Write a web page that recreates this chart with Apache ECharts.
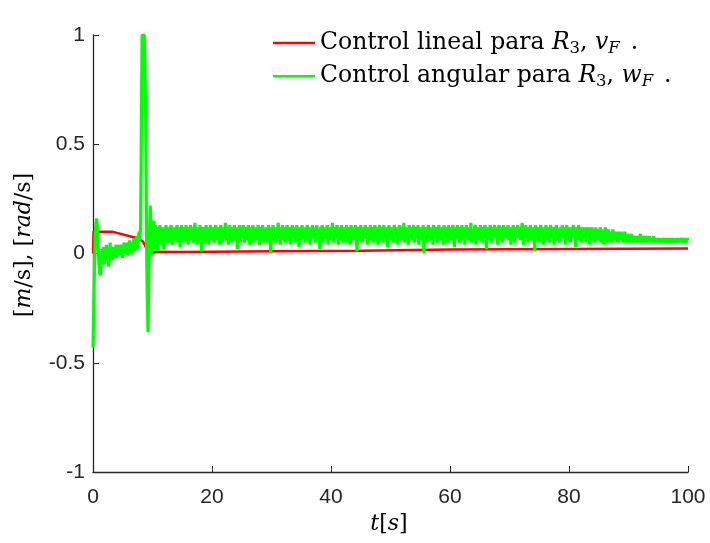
<!DOCTYPE html>
<html>
<head>
<meta charset="utf-8">
<script src="https://cdn.jsdelivr.net/npm/echarts@6.0.0/dist/echarts.min.js"></script>
<style>
  html, body { margin: 0; padding: 0; background: #ffffff; }
  #chart { width: 710px; height: 543px; }
</style>
</head>
<body>
<div id="chart"></div>
<script>
// Axis ticks
const xTicks = [0, 20, 40, 60, 80, 100];
const yTicks = [-1, -0.5, 0, 0.5, 1];

// Linear control signal v_F (time in s, value)
const linearT = [0, 0.1, 3.2, 7.5, 8.4, 9.5, 10.5, 15, 30, 45, 60, 80, 100];
const linearV = [0, 0.1, 0.1, 0.07, 0.055, -0.005, 0.008, 0.007, 0.010, 0.013, 0.018, 0.021, 0.023];

// Angular control signal w_F, sampled every 0.125 s from t = 0 to t = 100
const angularStep = 0.125;
const angularV = [
  // 0 - 12.5 s: start-up transient
  -0.43, -0.25, -0.05, 0.08, 0.14, 0.16, 0.10, 0.02, -0.05, -0.09,
  -0.10, -0.04, 0.02, -0.02, 0.03, -0.05, 0.01, -0.03, 0.04, -0.01,
  0.02, -0.06, -0.02, 0.05, -0.01, 0.03, -0.03, 0.02, -0.02, 0.03,
  0.00, 0.04, -0.02, 0.02, 0.04, -0.01, 0.03, 0.00, 0.04, 0.01,
  -0.02, 0.03, 0.05, 0.00, 0.04, 0.01, 0.05, -0.01, 0.03, 0.06,
  0.01, 0.04, 0.00, 0.05, 0.02, 0.07, 0.01, 0.06, 0.03, 0.08,
  0.02, 0.07, 0.10, 0.06, 0.12, 0.55, 1.00, 1.00, 1.00, 1.00,
  1.00, 0.60, 0.05, -0.20, -0.36, -0.10, 0.08, 0.22, 0.10, -0.01,
  0.12, 0.03, 0.15, 0.02, 0.13, 0.05, 0.12, 0.01, 0.11, 0.06,
  0.13, 0.04, 0.12, 0.07, 0.10, 0.02, 0.12, 0.06, 0.13, 0.05,
  0.11,
  // 12.6 - 90 s: steady tracking
  0.09, 0.12, 0.05, 0.11, 0.13, 0.07, 0.04, 0.10, 0.12, 0.06,
  0.11, 0.08, 0.13, 0.05, 0.09, 0.12, 0.03, 0.10, 0.13, 0.07,
  0.05, 0.12, 0.10, 0.06, 0.13, 0.08, 0.11, 0.04, 0.12, 0.09,
  0.13, 0.06, 0.10, 0.12, 0.05, 0.11, 0.14, 0.07, 0.09, 0.04,
  0.12, 0.10, 0.06, 0.13, 0.08, 0.01, 0.11, 0.12, 0.07, 0.10,
  0.05, 0.13, 0.09, 0.11, 0.04, 0.12, 0.08, 0.13, 0.06, 0.10,
  0.12, 0.07, 0.05, 0.11, 0.13, 0.09, 0.06, 0.12, 0.10, 0.04,
  0.11, 0.13, 0.08, 0.05, 0.12, 0.10, 0.07, 0.14, 0.06, 0.09,
  0.12, 0.04, 0.10, 0.13, 0.07, 0.11, 0.05, 0.12, 0.09, 0.13,
  0.06, 0.10, 0.12, 0.02, 0.11, 0.08, 0.13, 0.05, 0.10, 0.12,
  0.07, 0.13, 0.09, 0.05, 0.11, 0.12, 0.06, 0.10, 0.13, 0.08,
  0.04, 0.12, 0.10, 0.07, 0.13, 0.05, 0.11, 0.09, 0.12, 0.06,
  0.10, 0.13, 0.08, 0.04, 0.12, 0.11, 0.06, 0.13, 0.09, 0.05,
  0.11, 0.07, 0.12, 0.10, 0.05, 0.13, 0.08, 0.11, 0.00, 0.12,
  0.09, 0.13, 0.06, 0.10, 0.12, 0.05, 0.11, 0.08, 0.14, 0.07,
  0.10, 0.04, 0.12, 0.09, 0.13, 0.06, 0.11, 0.12, 0.05, 0.10,
  0.13, 0.08, 0.06, 0.12, 0.10, 0.04, 0.11, 0.13, 0.07, 0.09,
  0.12, 0.05, 0.10, 0.13, 0.08, 0.11, 0.03, 0.12, 0.09, 0.06,
  0.13, 0.10, 0.07, 0.12, 0.05, 0.11, 0.09, 0.13, 0.06, 0.10,
  0.12, 0.04, 0.11, 0.08, 0.13, 0.07, 0.10, 0.12, 0.05, 0.09,
  0.13, 0.06, 0.11, 0.10, 0.02, 0.12, 0.08, 0.13, 0.05, 0.11,
  0.09, 0.12, 0.07, 0.10, 0.13, 0.04, 0.11, 0.09, 0.12, 0.06,
  0.10, 0.14, 0.08, 0.05, 0.12, 0.11, 0.07, 0.13, 0.09, 0.04,
  0.12, 0.10, 0.06, 0.13, 0.08, 0.11, 0.05, 0.12, 0.10, 0.07,
  0.13, 0.05, 0.09, 0.12, 0.11, 0.04, 0.13, 0.08, 0.10, 0.06,
  0.12, 0.09, 0.13, 0.07, 0.01, 0.11, 0.12, 0.06, 0.10, 0.13,
  0.08, 0.05, 0.12, 0.10, 0.07, 0.13, 0.09, 0.11, 0.04, 0.12,
  0.10, 0.06, 0.13, 0.08, 0.11, 0.12, 0.05, 0.10, 0.13, 0.07,
  0.09, 0.12, 0.04, 0.11, 0.13, 0.08, 0.06, 0.12, 0.10, 0.05,
  0.13, 0.09, 0.11, 0.07, 0.12, 0.03, 0.10, 0.13, 0.08, 0.11,
  0.06, 0.12, 0.10, 0.05, 0.13, 0.09, 0.11, 0.07, 0.12, 0.04,
  0.10, 0.13, 0.08, 0.11, 0.06, 0.12, 0.09, 0.14, 0.05, 0.10,
  0.12, 0.07, 0.11, 0.04, 0.13, 0.10, 0.08, 0.12, 0.06, 0.11,
  0.13, 0.05, 0.09, 0.12, 0.10, 0.07, 0.13, 0.04, 0.11, 0.08,
  0.12, 0.10, 0.06, 0.13, 0.00, 0.11, 0.09, 0.12, 0.05, 0.10,
  0.13, 0.08, 0.11, 0.06, 0.12, 0.10, 0.04, 0.13, 0.09, 0.07,
  0.11, 0.12, 0.05, 0.10, 0.13, 0.08, 0.11, 0.06, 0.12, 0.09,
  0.04, 0.13, 0.10, 0.07, 0.12, 0.11, 0.05, 0.13, 0.08, 0.10,
  0.12, 0.06, 0.11, 0.13, 0.09, 0.03, 0.12, 0.10, 0.07, 0.13,
  0.08, 0.11, 0.05, 0.12, 0.10, 0.13, 0.06, 0.09, 0.12, 0.04,
  0.11, 0.13, 0.08, 0.10, 0.06, 0.12, 0.09, 0.14, 0.05, 0.11,
  0.10, 0.07, 0.12, 0.13, 0.04, 0.11, 0.09, 0.12, 0.06, 0.10,
  0.13, 0.08, 0.05, 0.12, 0.11, 0.07, 0.13, 0.10, 0.02, 0.12,
  0.09, 0.11, 0.06, 0.13, 0.10, 0.05, 0.12, 0.08, 0.11, 0.13,
  0.07, 0.10, 0.12, 0.04, 0.11, 0.13, 0.09, 0.06, 0.12, 0.10,
  0.05, 0.13, 0.08, 0.11, 0.12, 0.07, 0.10, 0.13, 0.06, 0.09,
  0.12, 0.04, 0.11, 0.10, 0.13, 0.08, 0.05, 0.12, 0.09, 0.11,
  0.13, 0.07, 0.10, 0.12, 0.06, 0.11, 0.14, 0.08, 0.04, 0.12,
  0.10, 0.13, 0.07, 0.11, 0.05, 0.12, 0.09, 0.13, 0.06, 0.10,
  0.12, 0.08, 0.11, 0.01, 0.13, 0.10, 0.06, 0.12, 0.09, 0.05,
  0.11, 0.13, 0.07, 0.10, 0.12, 0.04, 0.11, 0.09, 0.13, 0.06,
  0.10, 0.12, 0.08, 0.05, 0.13, 0.11, 0.07, 0.12, 0.10, 0.04,
  0.12, 0.09, 0.13, 0.06, 0.11, 0.10, 0.05, 0.12, 0.08, 0.11,
  0.13, 0.07, 0.10, 0.12, 0.04, 0.11, 0.13, 0.08, 0.06, 0.12,
  0.10, 0.05, 0.12, 0.09, 0.11, 0.13, 0.07, 0.10, 0.03, 0.12,
  0.11, 0.08, 0.13, 0.06, 0.10, 0.12, 0.05, 0.11, 0.09, 0.12,
  0.07, 0.11, 0.05, 0.12, 0.10, 0.08, 0.12, 0.04, 0.11, 0.09,
  0.12, 0.06, 0.10, 0.11, 0.05, 0.12, 0.08, 0.10, 0.06, 0.11,
  0.09, 0.12, 0.05, 0.10, 0.08, 0.11, 0.04, 0.10, 0.12, 0.07,
  0.10, 0.05, 0.11, 0.08, 0.06, 0.10, 0.09, 0.05, 0.11, 0.07,
  0.09, 0.06, 0.10, 0.08, 0.05, 0.10, 0.07, 0.09, 0.06, 0.10,
  0.07, 0.09, 0.05, 0.08, 0.10, 0.06, 0.08, 0.05, 0.09, 0.07,
  // 90.1 - 100 s: settling
  0.08, 0.05, 0.07, 0.09, 0.06, 0.08, 0.05, 0.07, 0.08, 0.06,
  0.07, 0.05, 0.08, 0.06, 0.07, 0.09, 0.05, 0.07, 0.06, 0.08,
  0.05, 0.07, 0.06, 0.08, 0.05, 0.07, 0.06, 0.08, 0.06, 0.07,
  0.05, 0.07, 0.06, 0.08, 0.05, 0.06, 0.07, 0.05, 0.07, 0.06,
  0.07, 0.05, 0.06, 0.07, 0.05, 0.07, 0.06, 0.07, 0.05, 0.06,
  0.07, 0.06, 0.05, 0.07, 0.06, 0.07, 0.05, 0.06, 0.07, 0.06,
  0.05, 0.06, 0.07, 0.05, 0.06, 0.07, 0.06, 0.05, 0.07, 0.06,
  0.06, 0.07, 0.05, 0.06, 0.07, 0.06, 0.05, 0.06, 0.07, 0.06
];

const seriesNames = ['lineal', 'angular'];
const legendLabels = {
  lineal: '{n|Control lineal para }{i|R}{s|3}{n|, }{i|v}{si|F}{dot|.}',
  angular: '{n|Control angular para }{i|R}{s|3}{n|, }{i|w}{si|F}{dot|.}'
};

const serif = 'DejaVu Serif';
const axisColor = '#262626';

const linearData = linearT.map((t, i) => [t, linearV[i]]);
const angularData = angularV.map((v, i) => [i * angularStep, v]);

function richStyles(size, subSize) {
  return {
    n:   { fontFamily: serif, fontSize: size, color: '#000', lineHeight: size + 4, verticalAlign: 'middle' },
    i:   { fontFamily: serif, fontSize: size, fontStyle: 'italic', color: '#000', lineHeight: size + 4, verticalAlign: 'middle' },
    dot: { fontFamily: serif, fontSize: size, color: '#000', lineHeight: size + 4, verticalAlign: 'middle', padding: [0, 0, 0, 11] },
    s:   { fontFamily: serif, fontSize: subSize, color: '#000', lineHeight: subSize, verticalAlign: 'bottom' },
    si:  { fontFamily: serif, fontSize: subSize, fontStyle: 'italic', color: '#000', lineHeight: subSize, verticalAlign: 'bottom' }
  };
}
const legendRich = richStyles(23.5, 16.5);
const axisNameRich = richStyles(22, 16);

const chart = echarts.init(document.getElementById('chart'), null, { renderer: 'canvas' });

chart.setOption({
  animation: false,
  backgroundColor: '#ffffff',
  grid: { left: 93, right: 22, top: 35, bottom: 71, containLabel: false },
  xAxis: {
    type: 'value',
    min: xTicks[0],
    max: xTicks[xTicks.length - 1],
    interval: xTicks[1] - xTicks[0],
    axisLine: { onZero: false, lineStyle: { color: axisColor, width: 1.3 } },
    axisTick: { inside: true, length: 6, lineStyle: { color: axisColor } },
    axisLabel: { color: axisColor, fontFamily: 'Liberation Sans', fontSize: 21, margin: 15 },
    splitLine: { show: false }
  },
  yAxis: {
    type: 'value',
    min: yTicks[0],
    max: yTicks[yTicks.length - 1],
    interval: yTicks[1] - yTicks[0],
    axisLine: { show: true, onZero: false, lineStyle: { color: axisColor, width: 1.3 } },
    axisTick: { show: true, inside: true, length: 6, lineStyle: { color: axisColor } },
    axisLabel: { color: axisColor, fontFamily: 'Liberation Sans', fontSize: 21, margin: 8 },
    splitLine: { show: false }
  },
  legend: {
    orient: 'vertical',
    left: 273,
    top: 31,
    padding: 0,
    icon: 'rect',
    itemWidth: 42,
    itemHeight: 2.5,
    itemGap: 7.5,
    selectedMode: false,
    data: seriesNames,
    formatter: name => legendLabels[name],
    textStyle: { rich: legendRich }
  },
  graphic: [
    {
      type: 'text',
      x: 24,
      y: 245,
      rotation: Math.PI / 2,
      style: {
        text: '{n|[}{i|m}{n|/s], [}{i|rad}{n|/s]}',
        rich: axisNameRich,
        align: 'center',
        verticalAlign: 'middle'
      }
    },
    {
      type: 'text',
      x: 389,
      y: 524,
      style: {
        text: '{i|t}{n|[}{i|s}{n|]}',
        rich: axisNameRich,
        align: 'center',
        verticalAlign: 'middle'
      }
    }
  ],
  series: [
    {
      name: seriesNames[0],
      type: 'line',
      data: linearData,
      showSymbol: false,
      symbol: 'none',
      color: '#ff0000',
      lineStyle: { color: '#ff0000', width: 2.5 },
      z: 2
    },
    {
      name: seriesNames[1],
      type: 'line',
      data: angularData,
      showSymbol: false,
      symbol: 'none',
      color: '#00ff00',
      lineStyle: { color: '#00ff00', width: 3.2, join: 'bevel' },
      z: 3
    }
  ]
});
</script>
</body>
</html>
